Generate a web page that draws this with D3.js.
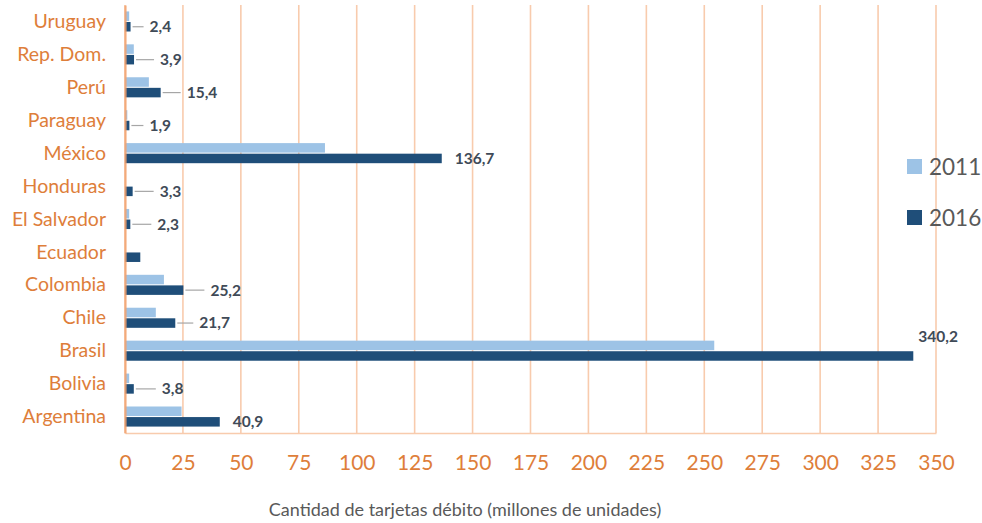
<!DOCTYPE html>
<html>
<head>
<meta charset="utf-8">
<script src="https://cdn.jsdelivr.net/npm/d3@7/dist/d3.min.js"></script>
<style>
  html, body { margin: 0; padding: 0; background: #fff; }
  svg { display: block; }
</style>
</head>
<body>
<svg id="chart" width="982" height="523"></svg>
<script>
// Debit cards by country, millions of units
const countries = ["Uruguay", "Rep. Dom.", "Perú", "Paraguay", "México", "Honduras",
                   "El Salvador", "Ecuador", "Colombia", "Chile", "Brasil", "Bolivia", "Argentina"];
const years = ["2011", "2016"];
const values2011 = [1.8, 3.8, 10.3, 1.0, 86.3, null, 1.8, null, 16.8, 13.3, 254.3, 1.8, 24.4];
const values2016 = [2.4, 3.9, 15.4, 1.9, 136.7, 3.3, 2.3, 6.6, 25.2, 21.7, 340.2, 3.8, 40.9];
// Printed labels for the 2016 series (Ecuador has none)
const labels2016 = ["2,4", "3,9", "15,4", "1,9", "136,7", "3,3", "2,3", null, "25,2", "21,7", "340,2", "3,8", "40,9"];
const xTicks = [0, 25, 50, 75, 100, 125, 150, 175, 200, 225, 250, 275, 300, 325, 350];
const axisTitle = "Cantidad de tarjetas débito (millones de unidades)";

// Label placement: leader line length (0 = no leader)
const leaderLength = {
  "Uruguay": 11, "Rep. Dom.": 18, "Perú": 18, "Paraguay": 12, "Honduras": 19,
  "El Salvador": 19, "Colombia": 19, "Chile": 16, "Bolivia": 20,
  "México": 0, "Argentina": 0
};

const colors = { "2011": "#9DC3E6", "2016": "#1F4E79" };
const orange = "#DE7E3A";
const gridColor = "#F8CBAD";
const labelColor = "#404A57";
const font = "Lato, 'Open Sans', sans-serif";

const svg = d3.select("#chart");
const margin = { left: 125, right: 46, top: 5, bottom: 90 };
const W = 982, H = 523;
const plotBottom = H - margin.bottom;

const x = d3.scaleLinear().domain([0, 350]).range([margin.left, W - margin.right]);
const y = d3.scaleBand().domain(countries).range([margin.top, plotBottom]).paddingInner(0.39).paddingOuter(0.195);
const ySub = d3.scaleBand().domain(years).range([0, y.bandwidth()]).paddingInner(0.1);

// Vertical gridlines
svg.append("g")
  .selectAll("line")
  .data(xTicks)
  .join("line")
  .attr("x1", d => x(d)).attr("x2", d => x(d))
  .attr("y1", margin.top).attr("y2", plotBottom)
  .attr("stroke", gridColor).attr("stroke-width", 1.6);

// Bottom axis line + tick labels
const xAxis = d3.axisBottom(x).tickValues(xTicks).tickSize(0).tickPadding(22.5).tickFormat(d3.format("d"));
const gx = svg.append("g").attr("transform", `translate(0,${plotBottom})`).call(xAxis);
gx.select(".domain").attr("stroke", gridColor).attr("stroke-width", 1.6);
gx.selectAll("text")
  .attr("fill", orange).attr("font-family", font).attr("font-size", 21);

// Bars
const rows = countries.map((c, i) => ({ country: c, "2011": values2011[i], "2016": values2016[i], label: labels2016[i] }));
const barGroups = svg.append("g")
  .selectAll("g")
  .data(rows)
  .join("g")
  .attr("transform", d => `translate(0,${y(d.country)})`);

barGroups.selectAll("rect")
  .data(d => years.filter(k => d[k] != null).map(k => ({ year: k, value: d[k] })))
  .join("rect")
  .attr("x", x(0))
  .attr("y", d => ySub(d.year))
  .attr("width", d => x(d.value) - x(0))
  .attr("height", ySub.bandwidth())
  .attr("fill", d => colors[d.year]);

// Left axis with category names
const yAxis = d3.axisLeft(y).tickSize(0).tickPadding(19);
const gy = svg.append("g").attr("transform", `translate(${x(0)},0)`).call(yAxis);
gy.select(".domain").attr("stroke", "#F2A26E").attr("stroke-width", 2.2).attr("stroke-opacity", 0.85);
gy.selectAll("text")
  .attr("fill", orange).attr("font-family", font).attr("font-size", 19.5)
  .attr("dy", "0.34em");

// Value labels for 2016
const labelled = rows.filter(d => d.label);
const lab = svg.append("g");
labelled.forEach(d => {
  const yc = y(d.country) + ySub("2016") + ySub.bandwidth() / 2;
  const xe = x(d["2016"]);
  if (d.country === "Brasil") {
    // no room to the right: set above the bar end
    lab.append("text")
      .attr("x", xe + 5).attr("y", y(d.country) - 4)
      .attr("dy", "0.35em")
      .attr("fill", labelColor).attr("font-family", font).attr("font-weight", 700).attr("font-size", 15.5)
      .text(d.label);
    return;
  }
  const len = leaderLength[d.country] || 0;
  let tx = xe + 13;
  if (len > 0) {
    lab.append("line")
      .attr("x1", xe + 2).attr("x2", xe + 2 + len)
      .attr("y1", yc).attr("y2", yc)
      .attr("stroke", "#A6A6A6").attr("stroke-width", 1.2);
    tx = xe + 2 + len + 6;
  }
  lab.append("text")
    .attr("x", tx).attr("y", yc)
    .attr("dy", "0.35em")
    .attr("fill", labelColor).attr("font-family", font).attr("font-weight", 700).attr("font-size", 15.5)
    .text(d.label);
});

// Legend
const legend = svg.append("g").attr("transform", "translate(907,159)");
years.forEach((yr, i) => {
  const g = legend.append("g").attr("transform", `translate(0,${i * 51})`);
  g.append("rect").attr("width", 15).attr("height", 15).attr("fill", colors[yr]);
  g.append("text")
    .attr("x", 22).attr("y", 7.5).attr("dy", "0.36em")
    .attr("fill", "#595959").attr("font-family", font).attr("font-size", 22.5)
    .text(yr);
});

// Axis title
svg.append("text")
  .attr("x", 465).attr("y", 516)
  .attr("text-anchor", "middle")
  .attr("fill", "#595959").attr("font-family", font).attr("font-size", 18)
  .text(axisTitle);
</script>
</body>
</html>
